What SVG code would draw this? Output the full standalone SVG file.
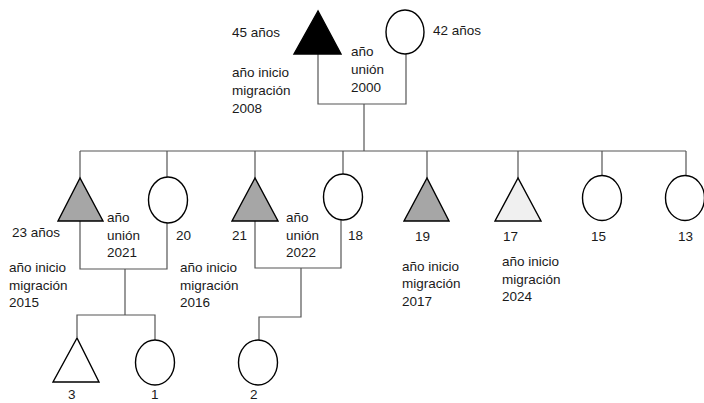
<svg xmlns="http://www.w3.org/2000/svg" width="704" height="403" viewBox="0 0 704 403">
<style>
.ln{fill:none;stroke:#555;stroke-width:1.2}
.sh{stroke:#000;stroke-width:1.4}
.t{font-family:"Liberation Sans",Arial,sans-serif;font-size:13.5px;fill:#1a1a1a}
</style>
<rect width="704" height="403" fill="#fff"/>
<g id="connectors" class="ln">
<path d="M318 54V104H406V54"/>
<path d="M364 104V151"/>
<path d="M80 151H686"/>
<path d="M80 151V178M167 151V177M255 151V178M343 151V174M427 151V178M518 151V178M602 151V176M686 151V176"/>
<path d="M80 221V269H167V223"/>
<path d="M125 269V315"/>
<path d="M77 337V315H155V340"/>
<path d="M255 221V268H341V220"/>
<path d="M301 268V317H259V340"/>
</g>
<g id="father">
<polygon class="sh" points="318,11 294,54 341,54" fill="#000"/>
<text class="t" x="232" y="37">45 años</text>
<text class="t" x="232" y="77">año inicio</text>
<text class="t" x="232" y="95">migración</text>
<text class="t" x="232" y="113">2008</text>
</g>
<g id="mother">
<ellipse class="sh" cx="405" cy="32" rx="19" ry="22" fill="#fff"/>
<text class="t" x="433" y="35">42 años</text>
</g>
<g id="union1">
<text class="t" x="351" y="56">año</text>
<text class="t" x="351" y="74">unión</text>
<text class="t" x="351" y="92">2000</text>
</g>
<g id="son23">
<polygon class="sh" points="80,178 58,221 103,221" fill="#a6a6a6"/>
<text class="t" x="12" y="237">23 años</text>
<text class="t" x="9" y="272">año inicio</text>
<text class="t" x="9" y="290">migración</text>
<text class="t" x="9" y="307">2015</text>
</g>
<g id="union2">
<text class="t" x="107" y="222">año</text>
<text class="t" x="107" y="240">unión</text>
<text class="t" x="107" y="257">2021</text>
</g>
<g id="wife20">
<ellipse class="sh" cx="168" cy="200" rx="19.5" ry="23" fill="#fff"/>
<text class="t" x="176" y="240">20</text>
<text class="t" x="180" y="272">año inicio</text>
<text class="t" x="180" y="290">migración</text>
<text class="t" x="180" y="307">2016</text>
</g>
<g id="son21">
<polygon class="sh" points="255,178 232,221 278,221" fill="#a6a6a6"/>
<text class="t" x="232" y="240">21</text>
</g>
<g id="union3">
<text class="t" x="286" y="222">año</text>
<text class="t" x="286" y="240">unión</text>
<text class="t" x="286" y="257">2022</text>
</g>
<g id="wife18">
<ellipse class="sh" cx="343" cy="197" rx="19.5" ry="23" fill="#fff"/>
<text class="t" x="348" y="240">18</text>
</g>
<g id="son19">
<polygon class="sh" points="427,178 404,221 449,221" fill="#a6a6a6"/>
<text class="t" x="415" y="241">19</text>
<text class="t" x="402" y="271">año inicio</text>
<text class="t" x="402" y="288">migración</text>
<text class="t" x="402" y="306">2017</text>
</g>
<g id="son17">
<polygon class="sh" points="518,178 495,221 541,221" fill="#f0f0f0"/>
<text class="t" x="503" y="241">17</text>
<text class="t" x="502" y="266">año inicio</text>
<text class="t" x="502" y="284">migración</text>
<text class="t" x="502" y="301">2024</text>
</g>
<g id="daughter15">
<ellipse class="sh" cx="602" cy="198" rx="19.5" ry="22.5" fill="#fff"/>
<text class="t" x="591" y="241">15</text>
</g>
<g id="daughter13">
<ellipse class="sh" cx="685" cy="198" rx="19.5" ry="22.5" fill="#fff"/>
<text class="t" x="678" y="241">13</text>
</g>
<g id="grandson3">
<polygon class="sh" points="77,338 53,382 99,382" fill="#fff"/>
<text class="t" x="68" y="399">3</text>
</g>
<g id="granddaughter1">
<ellipse class="sh" cx="155" cy="362.5" rx="19.5" ry="22.5" fill="#fff"/>
<text class="t" x="151" y="399">1</text>
</g>
<g id="granddaughter2">
<ellipse class="sh" cx="258" cy="362.5" rx="19.5" ry="22.5" fill="#fff"/>
<text class="t" x="250" y="399">2</text>
</g>
</svg>
